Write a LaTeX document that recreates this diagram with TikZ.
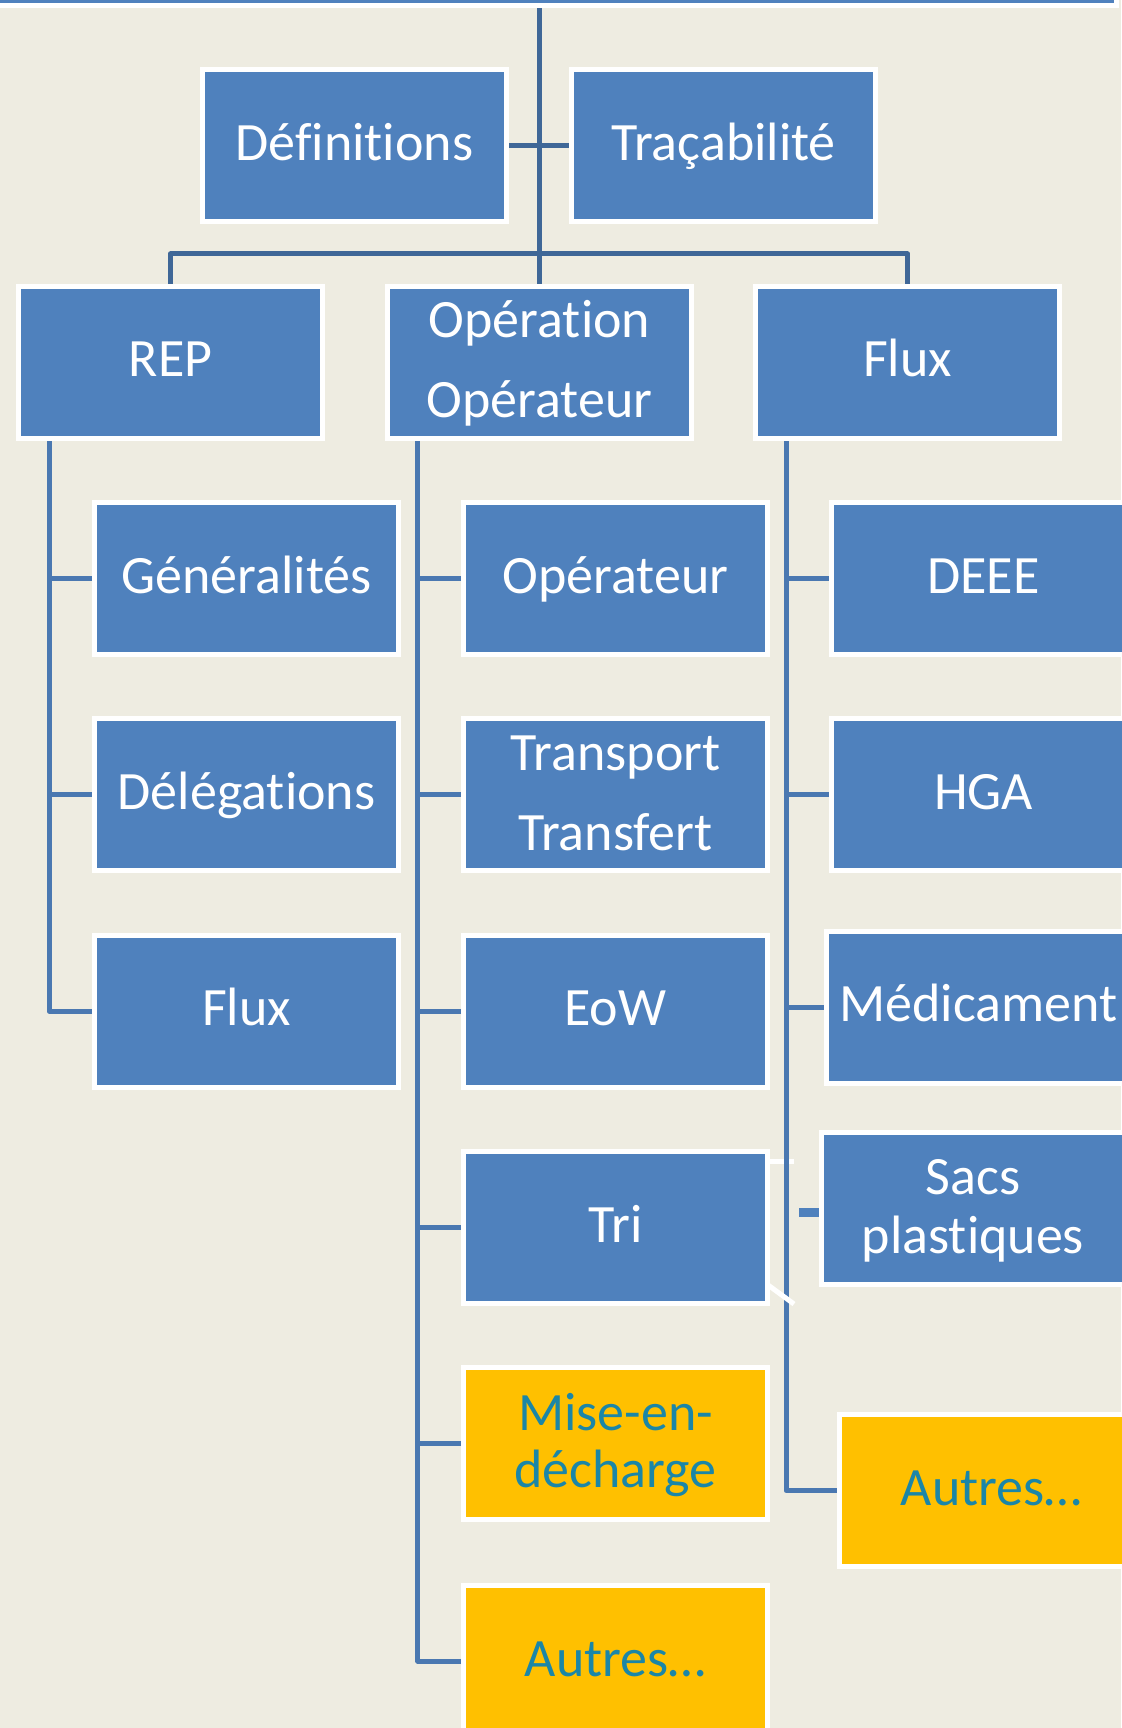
\documentclass[tikz,border=0pt]{standalone}
\usepackage{fontspec}
\setmainfont{Carlito}[Ligatures={NoCommon}]
\definecolor{bgcol}{HTML}{EEECE1}
\definecolor{boxblue}{HTML}{4F81BD}
\definecolor{boxyellow}{HTML}{FFC000}
\definecolor{yellowtext}{HTML}{1B86A7}
\definecolor{linetop}{HTML}{3F6797}
\definecolor{linechild}{HTML}{4A78B1}
\pgfdeclarelayer{bglayer}
\pgfdeclarelayer{lines}
\pgfsetlayers{bglayer,lines,main}
\tikzset{
  box/.style={draw=white, line width=5pt, fill=boxblue, minimum width=304pt, minimum height=152pt, inner sep=0pt, outer sep=0pt},
  ybox/.style={box, fill=boxyellow},
  lbl/.style={anchor=base, font=\fontsize{54}{54}\selectfont, text=white, inner sep=0pt},
  ylbl/.style={lbl, text=yellowtext},
  topline/.style={draw=linetop, line width=5pt, line join=round},
  childline/.style={draw=linechild, line width=5pt, line join=round},
  artefact/.style={draw=white, line width=5pt},
}
\begin{document}
\begin{tikzpicture}[x=1pt,y=-1pt]
\useasboundingbox (0,0) rectangle (1121,1728);
\begin{pgfonlayer}{bglayer}
  \fill[bgcol] (0,0) rectangle (1121,1728);
\end{pgfonlayer}

% banner
\node[box, minimum width=1300pt, minimum height=100pt, anchor=south east] (banner) at (1116.5,5.8) {};

% row 0
\node[box] (def) at (354.5,146) {};
\node[lbl] (def-t) at (354.5,160.5) {Définitions};
\node[box] (trac) at (723.5,146) {};
\node[lbl] (trac-t) at (723.5,160.5) {Traçabilité};

% row 1
\node[box] (rep) at (170.5,362) {};
\node[lbl] (rep-t) at (170.5,376.5) {REP};
\node[box] (op) at (539.5,362) {};
\node[lbl] (op-t1) at (539.5,337) {Opération};
\node[lbl] (op-t2) at (539.5,417) {Opérateur};
\node[box] (flux) at (907.5,362) {};
\node[lbl] (flux-t) at (907.5,376.5) {Flux};

% left column
\node[box] (gen) at (246.5,578.5) {};
\node[lbl] (gen-t) at (246.5,593) {Généralités};
\node[box] (del) at (246.5,794.8) {};
\node[lbl] (del-t) at (246.5,809.3) {Délégations};
\node[box] (rflux) at (246.5,1011) {};
\node[lbl] (rflux-t) at (246.5,1025.5) {Flux};

% middle column
\node[box] (oper) at (615.5,578.5) {};
\node[lbl] (oper-t) at (615.5,593) {Opérateur};
\node[box] (trans) at (615.5,794.8) {};
\node[lbl] (trans-t1) at (615.5,770) {Transport};
\node[lbl] (trans-t2) at (615.5,850) {Transfert};
\node[box] (eow) at (615.5,1011) {};
\node[lbl] (eow-t) at (615.5,1025.5) {EoW};
\node[box] (tri) at (615.5,1227.5) {};
\node[lbl] (tri-t) at (615.5,1242) {Tri};
\node[ybox] (mise) at (615.5,1443.5) {};
\node[ylbl] (mise-t1) at (615.5,1430.5) {Mise-en-};
\node[ylbl] (mise-t2) at (615.5,1487.5) {décharge};
\node[ybox] (mautres) at (615.5,1661) {};
\node[ylbl] (mautres-t) at (615.5,1676) {Autres…};

% right column
\node[box] (deee) at (983.5,578.5) {};
\node[lbl] (deee-t) at (983.5,593) {DEEE};
\node[box] (hga) at (983.5,794.8) {};
\node[lbl] (hga-t) at (983.5,809.3) {HGA};
\node[box] (med) at (978.5,1007) {};
\node[lbl] (med-t) at (978.5,1021.5) {Médicament};
\node[box] (sacs) at (973,1208) {};
\node[lbl] (sacs-t1) at (973,1194) {Sacs};
\node[lbl] (sacs-t2) at (973,1253) {plastiques};
\node[ybox] (rautres) at (991.5,1490.5) {};
\node[ylbl] (rautres-t) at (991.5,1505.5) {Autres…};

\begin{pgfonlayer}{lines}
  % top level
  \draw[topline] (banner.south -| op.north) -- (op.north);
  \draw[topline] (def.east) -- (trac.west);
  \coordinate (bary) at (0,254);
  \draw[topline] (rep.north) -- (rep.north |- bary) -- (flux.north |- bary) -- (flux.north);
  % left column
  \coordinate (repL) at ([xshift=30.5pt]rep.south west);
  \draw[childline] (repL) -- (repL |- rflux.west) -- (rflux.west);
  \draw[childline] (repL |- gen.west) -- (gen.west);
  \draw[childline] (repL |- del.west) -- (del.west);
  % middle column
  \coordinate (opL) at ([xshift=30.2pt]op.south west);
  \draw[childline] (opL) -- (opL |- mautres.west) -- (mautres.west);
  \draw[childline] (opL |- oper.west) -- (oper.west);
  \draw[childline] (opL |- trans.west) -- (trans.west);
  \draw[childline] (opL |- eow.west) -- (eow.west);
  \draw[childline] (opL |- tri.west) -- (tri.west);
  \draw[childline] (opL |- mise.west) -- (mise.west);
  % right column
  \draw[artefact] (tri.east |- 0,1161) -- (794,1161);
  \coordinate (fluxL) at ([xshift=30.5pt]flux.south west);
  \draw[childline] (fluxL) -- (fluxL |- rautres.west) -- (rautres.west);
  \draw[childline] (fluxL |- deee.west) -- (deee.west);
  \draw[childline] (fluxL |- hga.west) -- (hga.west);
  \draw[childline] (fluxL |- med.west) -- (med.west);
  \coordinate (sacsstub) at (799,1212.5);
  \draw[draw=boxblue, line width=9pt] (sacsstub) -- (sacsstub -| sacs.west);
\end{pgfonlayer}
\draw[artefact] (768,1285) -- (794,1304);
\end{tikzpicture}
\end{document}
